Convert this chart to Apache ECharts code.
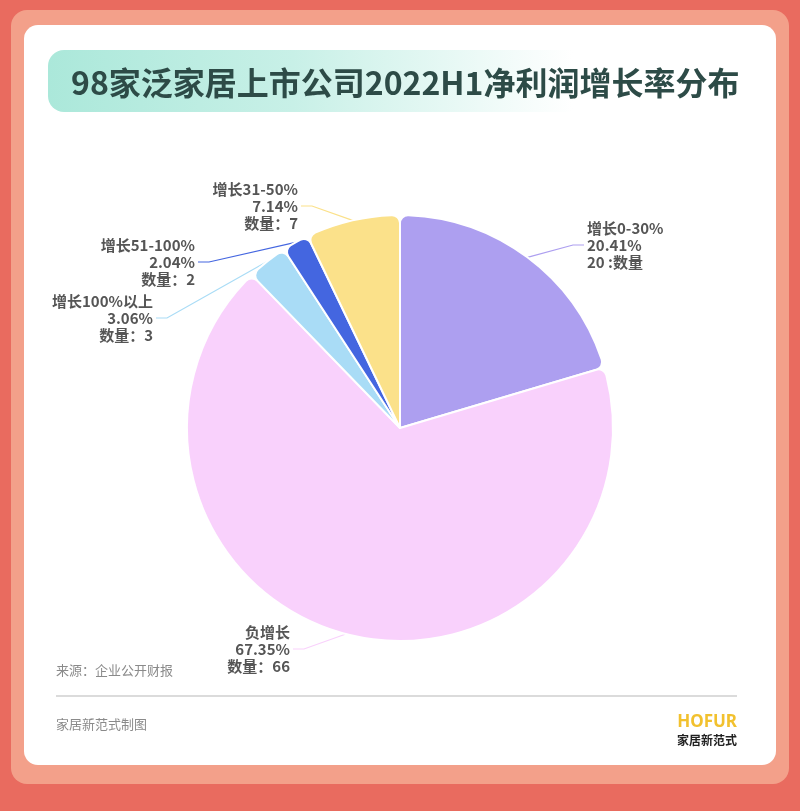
<!DOCTYPE html>
<html>
<head>
<meta charset="utf-8">
<script src="https://cdn.jsdelivr.net/npm/echarts@6/dist/echarts.min.js"></script>
<style>
html,body{margin:0;padding:0;background:#e96b5f;}
#chart{width:800px;height:811px;}
</style>
</head>
<body>
<div id="chart"></div>
<script>
// ---- data ----
const categories = ['增长0-30%', '负增长', '增长100%以上', '增长51-100%', '增长31-50%'];
const counts = [20, 66, 3, 2, 7];
const colors = ['#ad9ff0', '#f9d1fc', '#a9dcf6', '#4466e0', '#fbe18a'];
const countLabelTemplates = ['{c} :数量', '数量：{c}', '数量：{c}', '数量：{c}', '数量：{c}'];
const titleText = '98家泛家居上市公司2022H1净利润增长率分布';
const sourceText = '来源：企业公开财报';
const makerText = '家居新范式制图';
const logoText = 'HOFUR';
const logoSub = '家居新范式';

// label anchor placement (layout only)
const labelAnchors = [
  { x: 587, y: 245, align: 'left' },
  { x: 290, y: 649, align: 'right' },
  { x: 153, y: 318, align: 'right' },
  { x: 195, y: 262, align: 'right' },
  { x: 298, y: 206, align: 'right' }
];

const chart = echarts.init(document.getElementById('chart'), null, { renderer: 'canvas' });

const pieData = categories.map((name, i) => ({
  name: name,
  value: counts[i],
  itemStyle: { color: colors[i] },
  label: {
    formatter: '{b}\n{d}%\n' + countLabelTemplates[i]
  }
}));

const option = {
  backgroundColor: '#e96b5f',
  animation: false,
  title: {
    text: titleText,
    left: 66,
    top: 62,
    textStyle: {
      fontFamily: 'Noto Sans CJK SC',
      fontWeight: 'bold',
      fontSize: 32,
      color: '#2d4b47'
    }
  },
  graphic: [
    { type: 'rect', z: -10, shape: { x: 11, y: 10, width: 778, height: 774, r: 16 }, style: { fill: '#f3a08a' } },
    { type: 'rect', z: -9, shape: { x: 24, y: 25, width: 752, height: 740, r: 14 }, style: { fill: '#ffffff' } },
    { type: 'rect', z: -8, shape: { x: 48, y: 50, width: 700, height: 62, r: 16 },
      style: { fill: new echarts.graphic.LinearGradient(0, 0, 1, 0, [
        { offset: 0, color: '#abe8da' },
        { offset: 0.35, color: '#c8f0e7' },
        { offset: 0.75, color: '#ffffff' }
      ]) } },
    { type: 'text', left: 56, top: 664, style: { text: sourceText, fontSize: 13, fill: '#8a8a8a', fontFamily: 'Noto Sans CJK SC' } },
    { type: 'line', shape: { x1: 56, y1: 696, x2: 737, y2: 696 }, style: { stroke: '#cfcfcf', lineWidth: 1.5 } },
    { type: 'text', left: 56, top: 718, style: { text: makerText, fontSize: 13, fill: '#8a8a8a', fontFamily: 'Noto Sans CJK SC' } },
    { type: 'text', right: 63, top: 714, style: { text: logoText, fontSize: 17, fontWeight: 'bold', fill: '#f2c12e', fontFamily: 'Noto Sans', align: 'right' } },
    { type: 'text', right: 63, top: 734, style: { text: logoSub, fontSize: 12, fontWeight: 'bold', fill: '#222', fontFamily: 'Noto Sans CJK SC', align: 'right' } }
  ],
  series: [{
    type: 'pie',
    center: [400, 428],
    radius: [0, 213],
    startAngle: 90,
    clockwise: true,
    percentPrecision: 2,
    avoidLabelOverlap: false,
    itemStyle: { borderColor: '#ffffff', borderWidth: 2, borderRadius: 8 },
    label: {
      show: true,
      position: 'outside',
      fontFamily: 'Noto Sans CJK SC',
      fontSize: 15,
      fontWeight: 'bold',
      lineHeight: 17,
      color: '#555555'
    },
    labelLine: { show: true, length: 15, length2: 20, smooth: false, lineStyle: { width: 1.2 } },
    labelLayout: function (params) {
      const a = labelAnchors[params.dataIndex];
      const p0 = params.labelLinePoints ? params.labelLinePoints[0] : [a.x, a.y];
      const dir = a.align === 'left' ? -1 : 1;
      return {
        x: a.x,
        y: a.y,
        align: a.align,
        verticalAlign: 'middle',
        labelLinePoints: [p0, [a.x + dir * 14, a.y], [a.x + dir * 3, a.y]]
      };
    },
    data: pieData
  }]
};
chart.setOption(option);
</script>
</body>
</html>
